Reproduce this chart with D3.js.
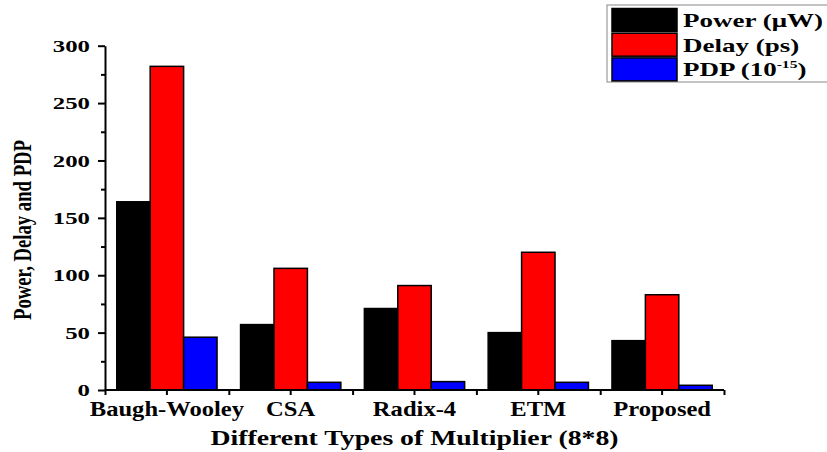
<!doctype html>
<html>
<head>
<meta charset="UTF-8">
<title>Multiplier comparison</title>
<script src="https://d3js.org/d3.v7.min.js"></script>
<style>
  body { margin: 0; background: #fff; }
  text { font-family: "Liberation Serif", "Times New Roman", serif; font-weight: bold; fill: #000; }
</style>
</head>
<body>
<script>
// values
var categories = ["Baugh-Wooley", "CSA", "Radix-4", "ETM", "Proposed"];
var power = [164, 57, 71, 50, 43];
var delay = [282, 106, 91, 120, 83];
var pdp = [46, 6.7, 7.3, 6.7, 4.1];
var seriesNames = ["power", "delay", "pdp"];
var yTicks = [0, 50, 100, 150, 200, 250, 300];

var w = 827, h = 452;
var mLeft = 105, mRight = 724, mBottom = 390, mTop = 45.7;
var colors = { power: "#000000", delay: "#ff0000", pdp: "#0000ff" };

var svg = d3.select("body").append("svg")
    .attr("width", w)
    .attr("height", h);

svg.append("rect").attr("width", w).attr("height", h).attr("fill", "#fff");

var x = d3.scaleBand().domain(categories).range([mLeft, mRight])
    .paddingInner(0.19).paddingOuter(0.095);
var x1 = d3.scaleBand().domain(seriesNames).range([0, x.bandwidth()]);
var y = d3.scaleLinear().domain([0, 300]).range([mBottom, mTop]);

var rows = categories.map(function (c, i) {
    return { cat: c, power: power[i], delay: delay[i], pdp: pdp[i] };
});

// bars
var g = svg.selectAll("g.group").data(rows).enter().append("g")
    .attr("class", "group")
    .attr("transform", function (d) { return "translate(" + x(d.cat) + ",0)"; });

g.selectAll("rect").data(function (d) {
    return seriesNames.map(function (k) { return { key: k, value: d[k] }; });
}).enter().append("rect")
    .attr("x", function (d) { return x1(d.key); })
    .attr("y", function (d) { return y(d.value); })
    .attr("width", x1.bandwidth())
    .attr("height", function (d) { return mBottom - y(d.value); })
    .attr("fill", function (d) { return colors[d.key]; })
    .attr("stroke", "#000")
    .attr("stroke-width", 1.5);

// the original picture is stretched sideways, so text is widened to match
function stretch(sel, f) {
    sel.each(function () {
        var len = this.getComputedTextLength();
        d3.select(this).attr("textLength", len * f).attr("lengthAdjust", "spacingAndGlyphs");
    });
}

// y axis
var yAxis = svg.append("g").attr("transform", "translate(" + mLeft + ",0)")
    .call(d3.axisLeft(y).tickValues(yTicks).tickSize(7).tickPadding(8).tickSizeOuter(0));
svg.append("g").attr("transform", "translate(" + mLeft + ",0)")
    .call(d3.axisLeft(y).tickValues(d3.range(25, 300, 50)).tickSize(4).tickFormat("").tickSizeOuter(0))
    .select(".domain").remove();
yAxis.selectAll("text").attr("font-size", 16).attr("dy", "0.36em");
stretch(yAxis.selectAll("text"), 1.55);

// x axis
var xm = d3.scaleLinear().domain([0, 10]).range([mLeft, mRight]);
var xAxis = svg.append("g").attr("transform", "translate(0," + mBottom + ")")
    .call(d3.axisBottom(x).tickSize(5).tickPadding(6).tickSizeOuter(0));
svg.append("g").attr("transform", "translate(0," + mBottom + ")")
    .call(d3.axisBottom(xm).tickValues([0, 2, 4, 6, 8, 10]).tickSize(5).tickFormat("").tickSizeOuter(0))
    .select(".domain").remove();
xAxis.select(".domain").attr("d", "M" + mLeft + ",0H" + mRight);
xAxis.selectAll("text").attr("font-size", 21);
stretch(xAxis.selectAll("text"), 1.17);

svg.selectAll(".domain, .tick line").attr("stroke", "#000").attr("stroke-width", 2);
svg.selectAll(".tick text").attr("font-family", null).attr("fill", "#000");

// axis titles
svg.append("text")
    .attr("x", (mLeft + mRight) / 2).attr("y", 445)
    .attr("text-anchor", "middle").attr("font-size", 22)
    .attr("textLength", 408).attr("lengthAdjust", "spacingAndGlyphs")
    .text("Different Types of Multiplier (8*8)");

svg.append("text")
    .attr("transform", "translate(31,230) rotate(-90)")
    .attr("text-anchor", "middle").attr("font-size", 26)
    .attr("font-weight", "normal")
    .attr("textLength", 180).attr("lengthAdjust", "spacingAndGlyphs")
    .text("Power, Delay and PDP");

// legend
var legend = svg.append("g");
legend.append("rect")
    .attr("x", 607).attr("y", 5).attr("width", 240).attr("height", 77)
    .attr("fill", "#fff").attr("stroke", "#888").attr("stroke-width", 1);

var legendRows = [
    { key: "power", label: "Power (\u03bcW)" },
    { key: "delay", label: "Delay (ps)" },
    { key: "pdp", label: "PDP (10" }
];
var item = legend.selectAll("g.item").data(legendRows).enter().append("g")
    .attr("transform", function (d, i) { return "translate(0," + (8.5 + i * 24.7) + ")"; });
item.append("rect")
    .attr("x", 612).attr("y", 0).attr("width", 65).attr("height", 23)
    .attr("fill", function (d) { return colors[d.key]; })
    .attr("stroke", "#000").attr("stroke-width", 1.5);
var lt = item.append("text")
    .attr("x", 683).attr("y", 18.5)
    .attr("font-size", 19)
    .text(function (d) { return d.label; });
lt.filter(function (d) { return d.key === "pdp"; })
    .call(function (t) {
        t.append("tspan").attr("dy", -8).attr("font-size", 11).text("-15");
        t.append("tspan").attr("dy", 8).text(")");
    });
stretch(lt, 1.42);
</script>
</body>
</html>
